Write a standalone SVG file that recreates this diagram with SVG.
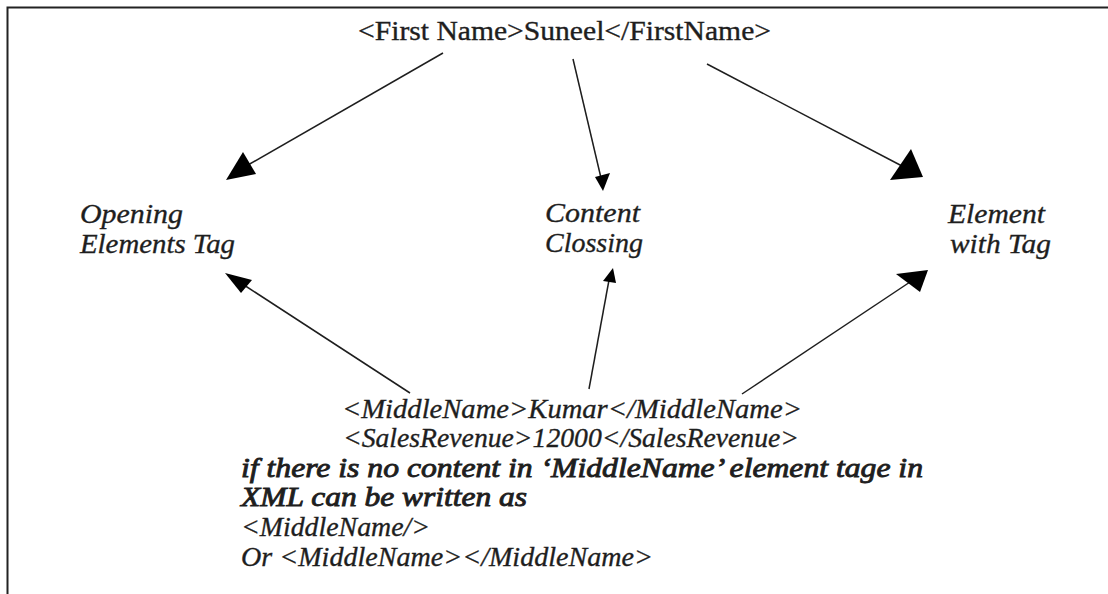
<svg xmlns="http://www.w3.org/2000/svg" width="1108" height="594" viewBox="0 0 1108 594">
<style>
.t{font-family:"Liberation Serif","DejaVu Serif",serif;fill:#1e1e1e;stroke:#1e1e1e;stroke-width:0.35}
.r{font-size:27px}
.i{font-size:28px;font-style:italic}
.b{stroke-width:0.9}
.ln{stroke:#1e1e1e;stroke-width:1.5;fill:none}
.ah{fill:#000;stroke:none}
</style>
<rect width="1108" height="594" fill="#fff"/>
<path d="M7.5,594 V7.5 H1108" fill="none" stroke="#222" stroke-width="2"/>
<g id="node-firstname"><text class="t r" x="358" y="40" textLength="413" lengthAdjust="spacingAndGlyphs">&lt;First Name&gt;Suneel&lt;/FirstName&gt;</text></g>
<g id="node-opening"><text class="t i" x="80" y="223" textLength="103" lengthAdjust="spacingAndGlyphs">Opening</text><text class="t i" x="80" y="253" textLength="155" lengthAdjust="spacingAndGlyphs">Elements Tag</text></g>
<g id="node-content"><text class="t i" x="545" y="222" textLength="95" lengthAdjust="spacingAndGlyphs">Content</text><text class="t i" x="545" y="252" textLength="98" lengthAdjust="spacingAndGlyphs">Clossing</text></g>
<g id="node-element"><text class="t i" x="948" y="223" textLength="97" lengthAdjust="spacingAndGlyphs">Element</text><text class="t i" x="950" y="253" textLength="101" lengthAdjust="spacingAndGlyphs">with Tag</text></g>
<g id="node-middlename">
<text class="t i" x="342" y="418" textLength="460" lengthAdjust="spacingAndGlyphs">&lt;MiddleName&gt;Kumar&lt;/MiddleName&gt;</text>
<text class="t i" x="343" y="447" textLength="456" lengthAdjust="spacingAndGlyphs">&lt;SalesRevenue&gt;12000&lt;/SalesRevenue&gt;</text>
<text class="t i b" x="241" y="477" textLength="682" lengthAdjust="spacingAndGlyphs">if there is no content in ‘MiddleName’ element tage in</text>
<text class="t i b" x="241" y="506" textLength="286" lengthAdjust="spacingAndGlyphs">XML can be written as</text>
<text class="t i" x="241" y="536" textLength="189" lengthAdjust="spacingAndGlyphs">&lt;MiddleName/&gt;</text>
<text class="t i" x="241" y="566" textLength="412" lengthAdjust="spacingAndGlyphs">Or &lt;MiddleName&gt;&lt;/MiddleName&gt;</text>
</g>
<g id="connectors">
<line class="ln" x1="443" y1="53" x2="248" y2="165"/>
<polygon class="ah" points="226,180 243,152 256,174"/>
<line class="ln" x1="573" y1="59" x2="601" y2="178"/>
<polygon class="ah" points="603,191 595,177 610,173"/>
<line class="ln" x1="707" y1="64" x2="902" y2="166"/>
<polygon class="ah" points="923,177 890,180 911,149"/>
<line class="ln" x1="410" y1="393" x2="244" y2="285"/>
<polygon class="ah" points="225,273 252,280 241,293"/>
<line class="ln" x1="589" y1="389" x2="609" y2="280"/>
<polygon class="ah" points="613,268 603,281 616,283"/>
<line class="ln" x1="742" y1="394" x2="910" y2="282"/>
<polygon class="ah" points="928,270 896,274 920,292"/>
</g>
</svg>
